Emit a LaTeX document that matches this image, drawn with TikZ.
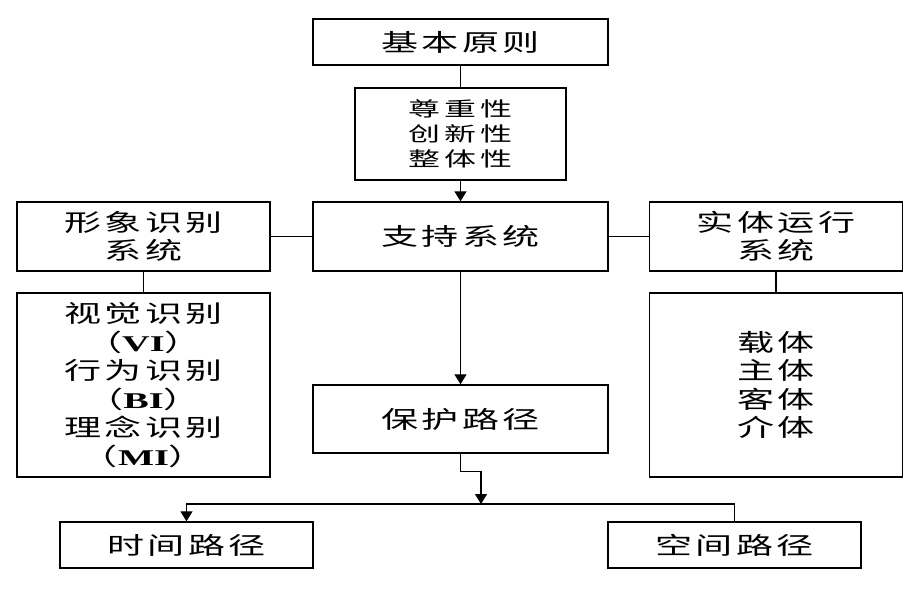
\documentclass[tikz,border=0pt]{standalone}
\usepackage{fontspec}
\setmainfont{Liberation Serif}
\newfontfamily\cjk[FakeStretch=1.55, LetterSpace=15]{Noto Sans CJK SC}
\newfontfamily\cjksmall[FakeStretch=1.6, LetterSpace=18]{Noto Sans CJK SC}
\newfontfamily\latinwide[FakeStretch=1.7]{Liberation Serif}
\usetikzlibrary{arrows.meta, positioning}
\newcommand{\bigcjk}{\cjk\fontsize{17}{20.3}\selectfont\lineskiplimit=-20pt}
\newcommand{\smallcjk}{\cjksmall\fontsize{14.2}{17.8}\selectfont\lineskiplimit=-20pt}
\newcommand{\abbr}[1]{（{\latinwide\bfseries\fontsize{16}{20.3}\selectfont #1}）}

\begin{document}
\begin{tikzpicture}[x=0.025cm, y=-0.025cm,
    box/.style={rectangle, draw=black, line width=1pt, align=center, inner sep=0pt, font=\bigcjk},
    wide/.style={minimum width=7.375cm},
    narrow/.style={minimum width=6.325cm},
    line/.style={line width=1pt},
    arrow/.style={-{Triangle[width=0.3cm, length=0.25cm]}, line width=1pt}
]
    \useasboundingbox (0,0) rectangle (921,597);

    \node[box, wide, minimum height=1.15cm] (yuanze) at (460.5,42) {基本原则};
    \node[box, minimum width=5.275cm, minimum height=2.3cm, font=\smallcjk] (xingzhi) at (460.5,134) {尊重性\\创新性\\整体性};
    \node[box, wide, minimum height=1.725cm] (zhichi) at (460.5,236.5) {支持系统};
    \node[box, narrow, minimum height=1.725cm] (xingxiang) at (143.5,236.5) {形象识别\\系统};
    \node[box, narrow, minimum height=1.725cm] (shiti) at (776,236.5) {实体运行\\系统};
    \node[box, narrow, minimum height=4.6cm] (shibie) at (143.5,385) {视觉识别\\\abbr{VI}\\行为识别\\\abbr{BI}\\理念识别\\\abbr{MI}};
    \node[box, narrow, minimum height=4.6cm] (zaiti) at (776,385) {载体\\主体\\客体\\介体};
    \node[box, wide, minimum height=1.7cm] (baohu) at (460.5,419) {保护路径};
    \node[box, narrow, minimum height=1.15cm] (shijian) at (186.5,545) {时间路径};
    \node[box, narrow, minimum height=1.15cm] (kongjian) at (734.5,545) {空间路径};
    \coordinate (fen) at (481,504);

    \draw[line] (yuanze) -- (xingzhi);
    \draw[arrow] (xingzhi) -- (zhichi);
    \draw[line] (xingxiang) -- (zhichi);
    \draw[line] (zhichi) -- (shiti);
    \draw[line] (xingxiang) -- (shibie);
    \draw[line] (shiti) -- (zaiti);
    \draw[arrow] (zhichi) -- (baohu);

    % split into the two paths
    \draw[arrow] (baohu.south) -- ++(0,18) -| (fen);
    \draw[arrow] (kongjian.north) |- (fen -| shijian.north) -- (shijian.north);
\end{tikzpicture}
\end{document}
